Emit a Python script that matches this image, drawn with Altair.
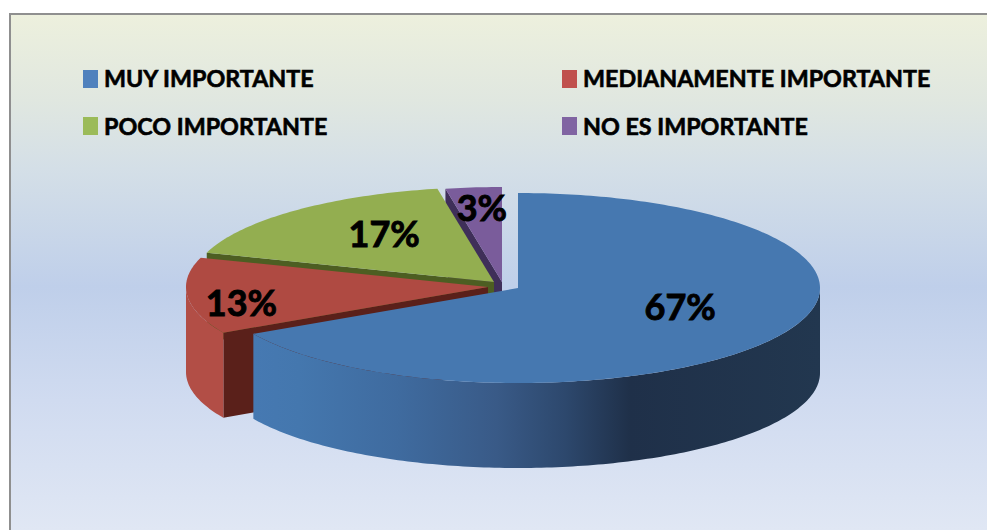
import numpy as np
import pandas as pd
import altair as alt

# Survey shares and their series names
categories = ["MUY IMPORTANTE", "MEDIANAMENTE IMPORTANTE", "POCO IMPORTANTE", "NO ES IMPORTANTE"]
values = [67, 13, 17, 3]

# Palette: legend swatch, top face, cut face
swatch_colors = ["#4f81bd", "#c0504d", "#9bbb59", "#8064a2"]
top_colors = ["#4678b0", "#af4a42", "#93ae50", "#7a5c9b"]
cut_colors = ["#2f4f78", "#5a201a", "#4d5e22", "#3f2f59"]

# Tilted disc geometry: each slice is pulled away from the middle on its own
centre_x = [518, 488, 494, 502]
centre_y = [288, 287, 282, 282]
radius_x = 302
radius_y = 95
depth = 85

# Label placement along each slice's mid-angle
label_reach = [0.62, 0.82, 0.55, 0.78]
label_dx = [1, 0, 0, 2]
label_dy = [-9, 11, -7, 2]

W, H = 987, 530
x_scale = alt.Scale(domain=[0, W], range=[0, W], nice=False, zero=False)
y_scale = alt.Scale(domain=[0, H], range=[0, H], nice=False, zero=False)
X = lambda f="x": alt.X(f"{f}:Q", scale=x_scale, axis=None)
Y = lambda f="y": alt.Y(f"{f}:Q", scale=y_scale, axis=None)

# Slice boundaries in degrees, clockwise from twelve o'clock
edges = np.cumsum([0] + values) * 3.6


def rim(k, a, b, drop=0.0):
    t = np.radians(np.linspace(a, b, max(int(abs(b - a)) + 2, 2)))
    return (centre_x[k] + radius_x * np.sin(t), centre_y[k] - radius_y * np.cos(t) + drop)


def polygon(xs, ys, fill):
    df = pd.DataFrame({"x": xs, "y": ys, "i": np.arange(len(xs))})
    return alt.Chart(df).mark_line(fill=fill, stroke=None, strokeWidth=0).encode(
        x=X(), y=Y(), order="i:Q"
    )


def top_face(k):
    rx, ry = rim(k, edges[k], edges[k + 1])
    return polygon(np.r_[centre_x[k], rx], np.r_[centre_y[k], ry], top_colors[k])


def wall(k, a, b, fill):
    tx, ty = rim(k, a, b)
    bx, by = rim(k, a, b, depth)
    return polygon(np.r_[tx, bx[::-1]], np.r_[ty, by[::-1]], fill)


def cut_face(k, angle, fill):
    rx, ry = rim(k, angle, angle)
    ex, ey = rx[0], ry[0]
    cx, cy = centre_x[k], centre_y[k]
    return polygon([cx, ex, ex, cx], [cy, ey, ey + depth, cy + depth], fill)


panel_fill = alt.Gradient(
    gradient="linear", x1=0, x2=0, y1=0, y2=1,
    stops=[
        alt.GradientStop(offset=0.0, color="#edf0dd"),
        alt.GradientStop(offset=0.17, color="#e0e7e0"),
        alt.GradientStop(offset=0.30, color="#d4dfe7"),
        alt.GradientStop(offset=0.53, color="#bfcfea"),
        alt.GradientStop(offset=0.75, color="#d0dbf0"),
        alt.GradientStop(offset=1.0, color="#e0e7f4"),
    ],
)

blue_wall_fill = alt.Gradient(
    gradient="linear", x1=0, x2=1, y1=0, y2=0,
    stops=[
        alt.GradientStop(offset=0.0, color="#4679b2"),
        alt.GradientStop(offset=0.08, color="#4477ae"),
        alt.GradientStop(offset=0.255, color="#3f6b9f"),
        alt.GradientStop(offset=0.43, color="#395a87"),
        alt.GradientStop(offset=0.55, color="#2d486d"),
        alt.GradientStop(offset=0.665, color="#1f3049"),
        alt.GradientStop(offset=1.0, color="#22374f"),
    ],
)

# Panel with a grey edge on its left and top sides
panel = alt.Chart(pd.DataFrame({"x": [9], "x2": [W], "y": [13], "y2": [H]})).mark_rect(
    fill=panel_fill
).encode(x=X(), x2="x2:Q", y=Y(), y2="y2:Q")
edge_left = alt.Chart(pd.DataFrame({"x": [10], "y": [13], "y2": [H]})).mark_rule(
    color="#8f8f8f", strokeWidth=2
).encode(x=X(), y=Y(), y2="y2:Q")
edge_top = alt.Chart(pd.DataFrame({"x": [9], "x2": [W], "y": [14]})).mark_rule(
    color="#8f8f8f", strokeWidth=2
).encode(x=X(), x2="x2:Q", y=Y())

# Drawn back to front so nearer slices hide the faces behind them
pie_layers = [
    cut_face(3, edges[3], cut_colors[3]),
    top_face(3),
    cut_face(2, edges[2], cut_colors[2]),
    top_face(2),
    cut_face(1, edges[1], cut_colors[1]),
    wall(1, edges[1], 270, "#b24e46"),
    top_face(1),
    wall(0, 90, edges[1], blue_wall_fill),
    top_face(0),
]

# Percentage labels
mid = np.radians((edges[:-1] + edges[1:]) / 2)
labels = pd.DataFrame({
    "x": [centre_x[k] + radius_x * label_reach[k] * np.sin(mid[k]) + label_dx[k] for k in range(4)],
    "y": [centre_y[k] - radius_y * label_reach[k] * np.cos(mid[k]) + label_dy[k] for k in range(4)],
    "text": [f"{v}%" for v in values],
})
label_layer = alt.Chart(labels).mark_text(
    font="Lato", fontWeight="bold", fontSize=36, color="#000000",
    stroke="#000000", strokeWidth=0.9, align="center", baseline="middle",
).encode(x=X(), y=Y(), text="text:N")

# Two-column legend
legend_col = [83, 562]
legend_row = [79, 126]
legend_rows = []
for k, name in enumerate(categories):
    legend_rows.append({
        "x": legend_col[k % 2], "x2": legend_col[k % 2] + 15,
        "y": legend_row[k // 2] - 9, "y2": legend_row[k // 2] + 9,
        "tx": legend_col[k % 2] + 21, "ty": legend_row[k // 2] + 0.5 + k // 2,
        "name": name, "swatch": swatch_colors[k],
    })
legend_df = pd.DataFrame(legend_rows)
legend_swatches = alt.Chart(legend_df).mark_rect().encode(
    x=X(), x2="x2:Q", y=Y(), y2="y2:Q", fill=alt.Fill("swatch:N", scale=None)
)
legend_text = alt.Chart(legend_df).mark_text(
    font="Lato", fontWeight="bold", fontSize=23.3, color="#000000",
    stroke="#000000", strokeWidth=0.6, align="left", baseline="middle",
).encode(x=X("tx"), y=Y("ty"), text="name:N")

chart = alt.layer(
    panel, edge_left, edge_top, *pie_layers, label_layer, legend_swatches, legend_text
).properties(
    width=W, height=H, padding=0, background="#ffffff",
    autosize=alt.AutoSizeParams(type="none"),
).configure_view(stroke=None)

chart.save("out.html", embed_options={"renderer": "svg", "actions": False})
